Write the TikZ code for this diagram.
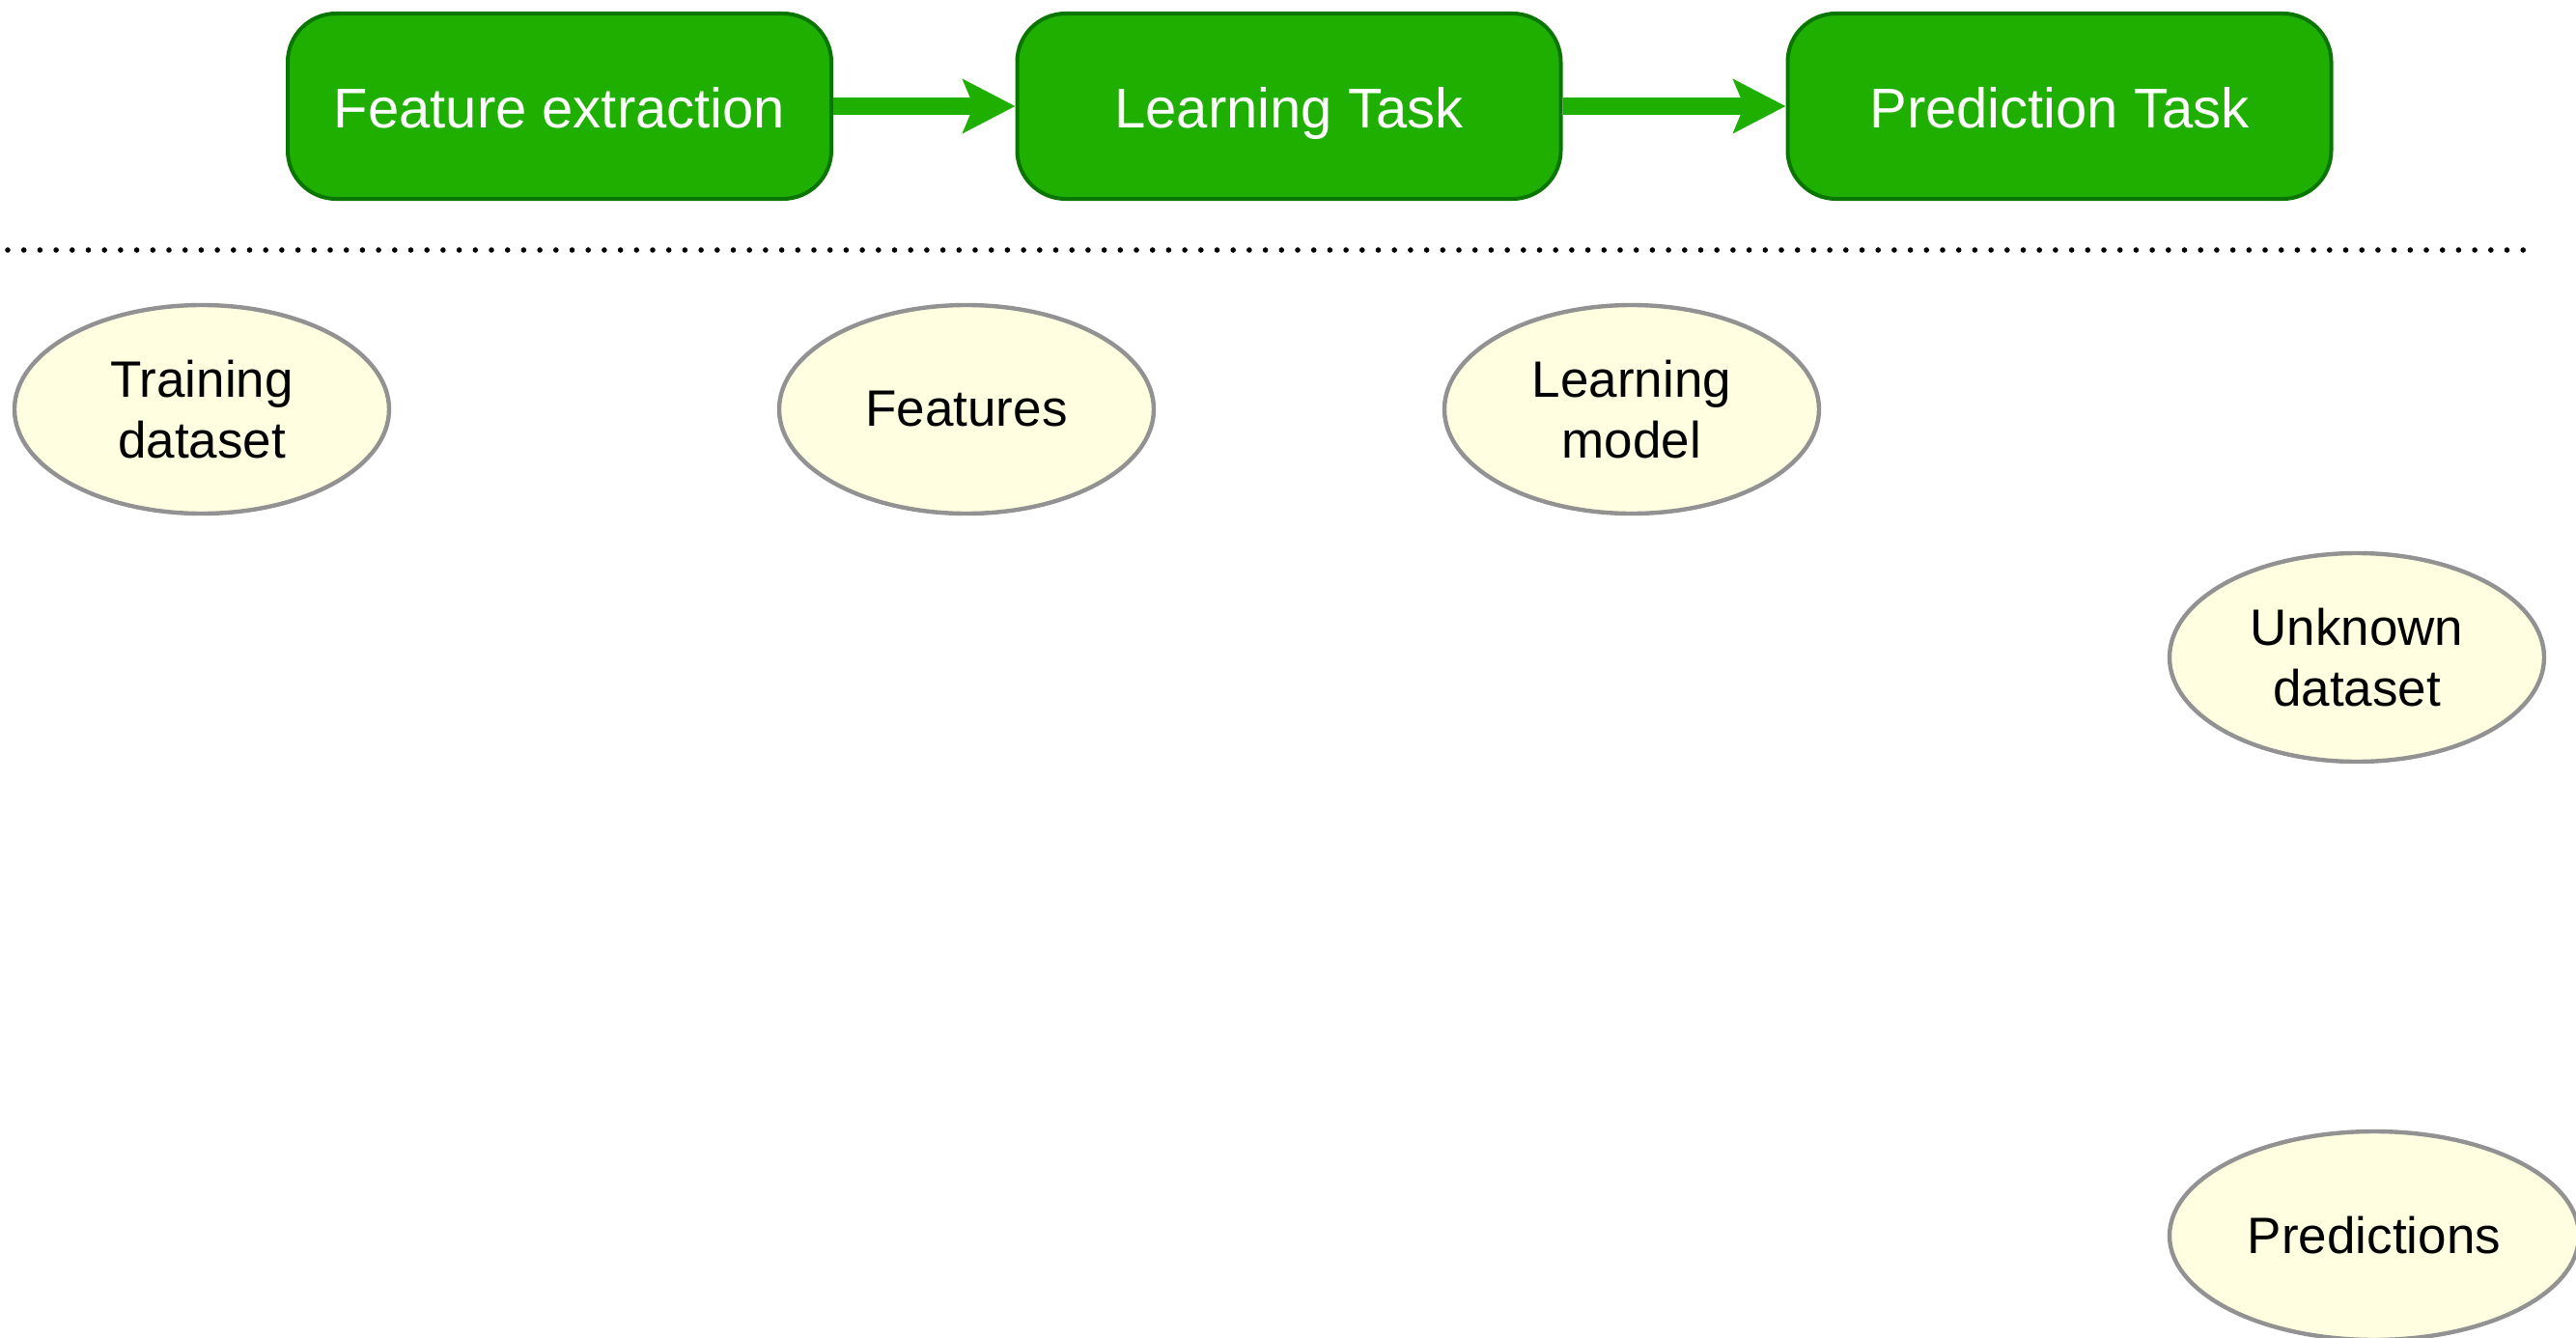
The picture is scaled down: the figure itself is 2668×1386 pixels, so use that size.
\documentclass[tikz,border=0pt]{standalone}
\usepackage{fontspec}
\setmainfont{Liberation Sans}
\usepackage{xcolor}
\usetikzlibrary{arrows.meta,positioning,shapes.geometric}
\definecolor{taskgreen}{RGB}{31,175,0}
\definecolor{taskedge}{RGB}{10,118,0}
\definecolor{datafill}{RGB}{255,254,224}
\definecolor{dataedge}{RGB}{146,146,146}
\tikzset{%
	task/.style  = {draw=taskedge, fill=taskgreen, line width=2pt, rectangle, rounded corners=25pt, minimum width=281.5pt, minimum height=96pt, text=white, font=\fontsize{29}{34}\selectfont, text height=23pt, text depth=0pt, text centered},
	data/.style  = {draw=dataedge, fill=datafill, line width=2.2pt, ellipse, minimum width=194pt, minimum height=108pt, inner sep=0pt, align=center, font=\fontsize{26.5}{31.5}\selectfont},
	flow/.style  = {draw=taskgreen, line width=9pt, -{Stealth[length=27pt,width=27.5pt,inset=5.5pt]}},
	divider/.style = {line width=2.8pt, line cap=round, dash pattern=on 0pt off 8.35pt},
}
\begin{document}
\begin{tikzpicture}[x=0.5pt,y=-0.5pt]
	\useasboundingbox (0,0) rectangle (2668,1386);
	
	% stages
	\node[task] (fe) at (579.5,110) {Feature extraction};
	\node[task] (lt) at (1335,110) {Learning Task};
	\node[task] (pt) at (2133,110) {Prediction Task};
	\draw[flow] (fe) -- (lt);
	\draw[flow] (lt) -- (pt);
	
	\coordinate (sepL) at (8,259);
	\coordinate (sepR) at (2620,259);
	\draw[divider] (sepL) -- (sepR);
	
	% data
	\node[data] (train) at (209,424) {Training\\dataset};
	\node[data] (feat) at (1001,424) {Features};
	\node[data] (model) at (1690,424) {Learning\\model};
	\node[data] (unknown) at (2441,681) {Unknown\\dataset};
	\node[data, minimum width=212pt] (pred) at (2459,1280) {Predictions};
\end{tikzpicture}
\end{document}
